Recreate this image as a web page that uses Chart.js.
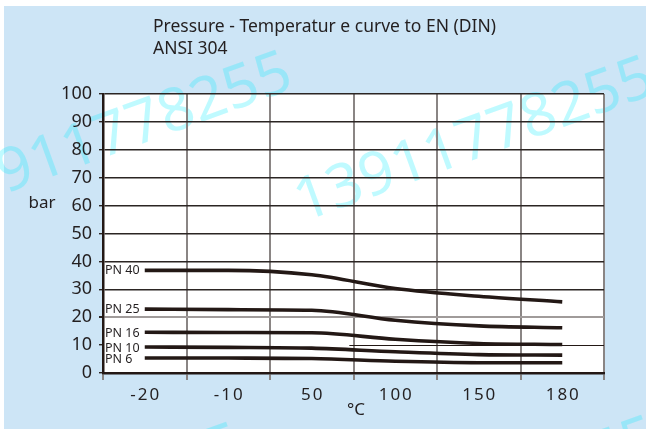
<!DOCTYPE html>
<html>
<head>
<meta charset="utf-8">
<script src="https://cdn.jsdelivr.net/npm/chart.js@4"></script>
<style>
  body { margin: 0; background: #fff; }
  #wrap { position: relative; width: 646px; height: 429px; }
</style>
</head>
<body>
<div id="wrap"><canvas id="ptChart"></canvas></div>
<script>
// temperatures (categories) and pressure ratings in bar
const temps = ['-20', '-10', '50', '100', '150', '180'];
const pn40 = [36.8, 36.8, 35.2, 30.3, 27.5, 25.5];
const pn25 = [22.9, 22.7, 22.5, 18.9, 16.9, 16.2];
const pn16 = [14.6, 14.5, 14.4, 12.1, 10.6, 10.2];
const pn10 = [9.3, 9.2, 8.9, 7.6, 6.6, 6.4];
const pn6 = [5.4, 5.35, 5.2, 4.2, 3.7, 3.7];
const seriesNames = ['PN 40', 'PN 25', 'PN 16', 'PN 10', 'PN 6'];
const yMin = 0, yMax = 100, yStep = 10;

const titleLines = ['Pressure - Temperatur e curve to EN (DIN)', 'ANSI 304'];
const yUnit = 'bar';
const xUnit = '°C';
const watermark = '13911778255';

const ink = '#231815';
const font = '"Noto Sans", sans-serif';

const decor = {
    id: 'decor',
    beforeDraw(chart) {
        const ctx = chart.ctx;
        const a = chart.chartArea;
        ctx.save();
        ctx.fillStyle = '#ffffff';
        ctx.fillRect(0, 0, chart.width, chart.height);
        ctx.fillStyle = '#cde5f6';
        ctx.fillRect(4, 6, chart.width - 4, chart.height - 6);
        ctx.fillStyle = '#ffffff';
        ctx.fillRect(a.left, a.top, a.right - a.left, a.bottom - a.top);

        // watermark
        ctx.fillStyle = 'rgba(0,235,255,0.25)';
        ctx.font = '60px ' + font;
        [[-59, 217], [303, 222], [-108, 589], [307, 582]].forEach(p => {
            ctx.save();
            ctx.translate(p[0], p[1]);
            ctx.rotate(-20 * Math.PI / 180);
            ctx.fillText(watermark, 0, 0);
            ctx.restore();
        });

        // title
        ctx.fillStyle = '#231f20';
        ctx.font = '17.5px ' + font;
        ctx.textBaseline = 'middle';
        ctx.fillText(titleLines[0], 153, 27, 344);
        ctx.fillText(titleLines[1], 153, 49);
        ctx.restore();
    },
    afterDraw(chart) {
        const ctx = chart.ctx;
        const a = chart.chartArea;
        const xs = chart.scales.x;
        const ys = chart.scales.y;
        ctx.save();

        // the 10 bar line only runs over the right part
        const y10 = Math.round(ys.getPixelForValue(10)) + 0.5;
        ctx.strokeStyle = ink;
        ctx.lineWidth = 1.2;
        ctx.beginPath();
        ctx.moveTo(xs.getPixelForValue(2.45), y10);
        ctx.lineTo(a.right, y10);
        ctx.stroke();

        // x tick labels
        ctx.fillStyle = '#231f20';
        ctx.font = '17px ' + font;
        ctx.textAlign = 'center';
        ctx.textBaseline = 'middle';
        ctx.letterSpacing = '2px';
        temps.forEach((t, i) => {
            ctx.fillText(t, xs.getPixelForTick(i) + 1, a.bottom + 22);
        });
        ctx.letterSpacing = '0px';

        // axis units
        ctx.font = '17px ' + font;
        ctx.fillText(xUnit, 356, 410);
        ctx.fillText(yUnit, 42, 203);

        // series labels
        ctx.font = '12.5px ' + font;
        ctx.textAlign = 'left';
        chart.data.datasets.forEach((ds, i) => {
            const pt = chart.getDatasetMeta(i).data[0];
            ctx.fillText(ds.label, a.left + 2, pt.y + (i >= 2 ? 1.5 : 0));
        });
        ctx.restore();
    }
};

const lineStyle = {
    borderColor: ink,
    borderWidth: 3.6,
    pointRadius: 0,
    fill: false,
    cubicInterpolationMode: 'monotone'
};

const ptChart = new Chart(document.getElementById('ptChart'), {
    type: 'line',
    data: {
        labels: temps,
        datasets: [
            { label: seriesNames[0], data: pn40, ...lineStyle },
            { label: seriesNames[1], data: pn25, ...lineStyle },
            { label: seriesNames[2], data: pn16, ...lineStyle },
            { label: seriesNames[3], data: pn10, ...lineStyle },
            { label: seriesNames[4], data: pn6, ...lineStyle }
        ]
    },
    options: {
        responsive: true,
        maintainAspectRatio: false,
        animation: false,
        layout: { padding: { top: 94, right: 42, left: 0, bottom: 0 } },
        plugins: {
            legend: { display: false },
            tooltip: { enabled: false }
        },
        scales: {
            x: {
                offset: true,
                grid: {
                    offset: true,
                    color: '#8a8584',
                    lineWidth: 2,
                    tickLength: 7,
                    tickColor: '#8a8584'
                },
                border: { color: ink, width: 2.5 },
                ticks: { display: false },
                afterFit(scale) { scale.height = 56; }
            },
            y: {
                min: yMin,
                max: yMax,
                grid: {
                    color: c => c.tick.value === 10 ? 'rgba(0,0,0,0)' :
                        (c.tick.value === 20 ? '#a09b9a' : '#2b2523'),
                    lineWidth: c => c.tick.value === 20 ? 2 : 1.4,
                    tickLength: 4,
                    tickColor: '#2b2523'
                },
                border: { color: ink, width: 2.5 },
                ticks: {
                    stepSize: yStep,
                    padding: 7,
                    color: '#231f20',
                    font: { family: font, size: 18 }
                },
                afterFit(scale) { scale.width = 103; }
            }
        }
    },
    plugins: [decor]
});
</script>
</body>
</html>
